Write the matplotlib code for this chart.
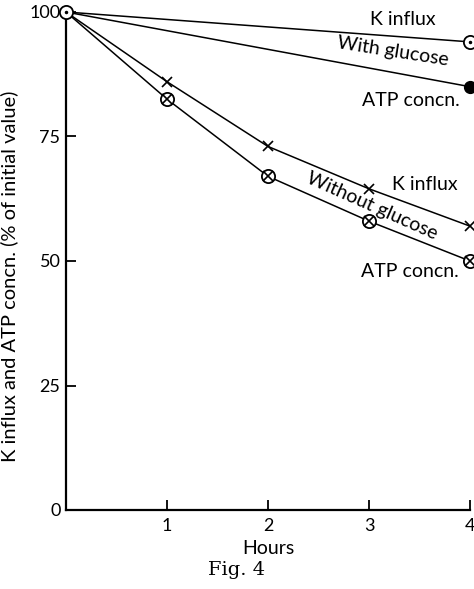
import matplotlib
matplotlib.use("Agg")
from matplotlib import pyplot as plt

hours = [0, 1, 2, 3, 4]
k_glucose_x = [0, 4]
k_glucose = [100, 94]
atp_glucose_x = [0, 4]
atp_glucose = [100, 85]
k_no_glucose = [100, 86, 73, 64.5, 57]
atp_no_glucose = [100, 82.5, 67, 58, 50]

y_ticks = [0, 25, 50, 75, 100]
x_ticks = [1, 2, 3, 4]

plt.rcParams['font.family'] = ['Lato', 'DejaVu Sans']

fig = plt.figure(figsize=(4.74, 5.89), dpi=100)
ax = fig.add_axes([66 / 474, 1 - 510 / 589, 404 / 474, 498 / 589])

lw = 1.1
ax.plot(k_glucose_x, k_glucose, color='k', lw=lw, clip_on=False)
ax.plot(atp_glucose_x, atp_glucose, color='k', lw=lw, clip_on=False)
ax.plot(hours, k_no_glucose, color='k', lw=lw, clip_on=False)
ax.plot(hours, atp_no_glucose, color='k', lw=lw, clip_on=False)

# markers
ax.plot(hours[1:], k_no_glucose[1:], 'x', color='k', ms=6.5, mew=1.2, clip_on=False)
ax.plot(hours[1:], atp_no_glucose[1:], 'o', mfc='white', mec='k', ms=9.5, mew=1.3, clip_on=False, zorder=3)
ax.plot(hours[1:], atp_no_glucose[1:], 'x', color='k', ms=6.5, mew=1.2, clip_on=False, zorder=4)
ax.plot(atp_glucose_x[1:], atp_glucose[1:], 'o', color='k', ms=8.5, clip_on=False, zorder=3)
for xs, ys in [([0], [100]), (k_glucose_x[1:], k_glucose[1:])]:
    ax.plot(xs, ys, 'o', mfc='white', mec='k', ms=9.5, mew=1.3, clip_on=False, zorder=3)
    ax.plot(xs, ys, '.', color='k', ms=3, clip_on=False, zorder=4)

ax.set_xlim(0, 4)
ax.set_ylim(0, 100)
ax.spines['top'].set_visible(False)
ax.spines['right'].set_visible(False)
ax.spines['left'].set_linewidth(1.6)
ax.spines['bottom'].set_linewidth(1.6)
ax.set_xticks(x_ticks)
ax.set_yticks(y_ticks)
ax.tick_params(direction='in', length=7, width=1.3, labelsize=13, pad=6)
ax.tick_params(axis='y', pad=4)

ax.set_ylabel('K influx and ATP concn. (% of initial value)', fontsize=14.5)
ax.yaxis.set_label_coords(-0.119, 0.47)
ax.set_xlabel('Hours', fontsize=14, labelpad=4)

fs = 14
ax.text(3.33, 98.4, 'K influx', fontsize=fs, ha='center', va='center')
ax.text(3.24, 92.0, 'With glucose', fontsize=fs, ha='center', va='center', rotation=-9)
ax.text(3.41, 82.3, 'ATP concn.', fontsize=fs, ha='center', va='center')
ax.text(3.55, 65.3, 'K influx', fontsize=fs, ha='center', va='center')
ax.text(3.03, 61.0, 'Without glucose', fontsize=fs, ha='center', va='center', rotation=-24)
ax.text(3.40, 47.8, 'ATP concn.', fontsize=fs, ha='center', va='center')

fig.text(0.5, 1 - 570 / 589, 'Fig. 4', fontsize=14, family='DejaVu Serif', ha='center', va='center')

fig.savefig('out.png', dpi=100)
